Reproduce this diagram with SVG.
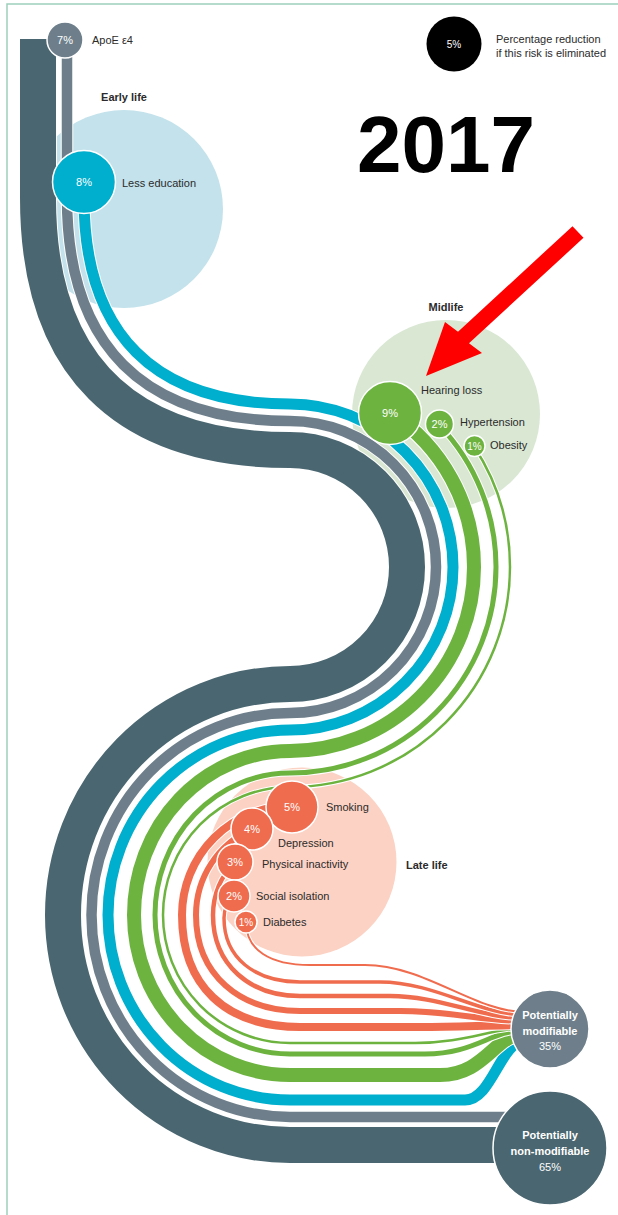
<svg xmlns="http://www.w3.org/2000/svg" width="618" height="1215" viewBox="0 0 618 1215">
<style>
text{font-family:"Liberation Sans",Arial,sans-serif;font-size:11px;fill:#2b2b2b}
.b{font-weight:bold}
.pct{fill:#fff;text-anchor:middle}
.mid{text-anchor:middle}
.stage{stroke:none}
.node{stroke:#fff;stroke-width:1.5}
.s{fill:none;stroke-linecap:butt;stroke-linejoin:round}
.cs{fill:none;stroke:#fff;stroke-linecap:butt}
.dk{stroke:#4a6670}.gy{stroke:#6e7f8b}.cy{stroke:#00aecd}.gr{stroke:#6db33f}.rd{stroke:#f06c4e}
</style>
<rect width="618" height="1215" fill="#fff"/>
<path d="M7 1215 V4 H618" fill="none" stroke="#9ccfbb" stroke-width="1.5"/>

<g id="stage-early"><circle class="stage" cx="124" cy="209" r="99" fill="#c3e2eb"/><text class="b mid" x="124" y="101">Early life</text></g>
<g id="stage-mid"><circle class="stage" cx="446" cy="414" r="94" fill="#d9e7d3"/><text class="b mid" x="446" y="311">Midlife</text></g>
<g id="stage-late"><circle class="stage" cx="302" cy="862" r="94.5" fill="#fbd2c3"/><text class="b" x="406" y="869">Late life</text></g>

<g id="title"><text x="357" y="172" style="font-size:80px;font-weight:bold;fill:#000">2017</text></g>
<g id="legend"><circle cx="454" cy="44" r="27.5" fill="#000"/><text class="pct" x="454" y="48" style="font-size:10px">5%</text>
<text x="496" y="43">Percentage reduction</text><text x="496" y="57">if this risk is eliminated</text></g>

<g id="connectors">
<path class="cs" stroke-width="38" d="M38 39 V198 C38 364.3 123.7 450 290 450 A117 117 0 0 1 407 567 A117 117 0 0 1 290 684 A227 231 0 0 0 63 915 A227 230 0 0 0 290 1145 H525"/>
<path class="s dk" stroke-width="36" d="M38 39 V198 C38 364.3 123.7 450 290 450 A117 117 0 0 1 407 567 A117 117 0 0 1 290 684 A227 231 0 0 0 63 915 A227 230 0 0 0 290 1145 H525"/>
<path class="cs" stroke-width="12.5" d="M67 52 V198 C67 345.2 142.8 421 290 421 A146 146 0 0 1 436 567 A146 146 0 0 1 290 713 A198.5 202 0 0 0 91.5 915 A198.5 202 0 0 0 290 1117 H525"/>
<path class="s gy" stroke-width="10.5" d="M67 52 V198 C67 345.2 142.8 421 290 421 A146 146 0 0 1 436 567 A146 146 0 0 1 290 713 A198.5 202 0 0 0 91.5 915 A198.5 202 0 0 0 290 1117 H525"/>
<path class="cs" stroke-width="13" d="M84 190 V198 C84 334 154 404 290 404 A163 163 0 0 1 453 567 A163 163 0 0 1 290 730 A182 185 0 0 0 108 915 A182 185 0 0 0 290 1100 H465 C492 1100 500 1042 525 1040"/>
<path class="s cy" stroke-width="11" d="M84 190 V198 C84 334 154 404 290 404 A163 163 0 0 1 453 567 A163 163 0 0 1 290 730 A182 185 0 0 0 108 915 A182 185 0 0 0 290 1100 H465 C492 1100 500 1042 525 1040"/>
<path class="cs" stroke-width="16" d="M390.2 412.7 A184 184 0 0 1 474 567 A184 184 0 0 1 290 751 A156 164 0 0 0 134 915 A156 160 0 0 0 290 1075 H440 C485 1075 495 1034 525 1033"/>
<path class="s gr" stroke-width="14" d="M390.2 412.7 A184 184 0 0 1 474 567 A184 184 0 0 1 290 751 A156 164 0 0 0 134 915 A156 160 0 0 0 290 1075 H440 C485 1075 495 1034 525 1033"/>
<path class="cs" stroke-width="7" d="M438.9 424.7 A206 206 0 0 1 496 567 A206 206 0 0 1 290 773 A135 142 0 0 0 155 915 A135 139 0 0 0 290 1054 H425 C475 1054 490 1031 525 1030"/>
<path class="s gr" stroke-width="5" d="M438.9 424.7 A206 206 0 0 1 496 567 A206 206 0 0 1 290 773 A135 142 0 0 0 155 915 A135 139 0 0 0 290 1054 H425 C475 1054 490 1031 525 1030"/>
<path class="cs" stroke-width="4.5" d="M473.9 446.2 A220 220 0 0 1 510 567 A220 220 0 0 1 290 787 A127 128 0 0 0 163 915 A127 128 0 0 0 290 1043 H415 C465 1043 490 1029 525 1028"/>
<path class="s gr" stroke-width="2.5" d="M473.9 446.2 A220 220 0 0 1 510 567 A220 220 0 0 1 290 787 A127 128 0 0 0 163 915 A127 128 0 0 0 290 1043 H415 C465 1043 490 1029 525 1028"/>
<path class="cs" stroke-width="10" d="M292 806 A109 109 0 0 0 182 915 C182 985 225 1027 300 1027 H420 C460 1027 490 1025 525 1025"/>
<path class="s rd" stroke-width="8" d="M292 806 A109 109 0 0 0 182 915 C182 985 225 1027 300 1027 H420 C460 1027 490 1025 525 1025"/>
<path class="cs" stroke-width="8" d="M252 829 A94 94 0 0 0 196 915 C196 975 240 1011 300 1011 H400 C450 1011 485 1021 525 1021"/>
<path class="s rd" stroke-width="6" d="M252 829 A94 94 0 0 0 196 915 C196 975 240 1011 300 1011 H400 C450 1011 485 1021 525 1021"/>
<path class="cs" stroke-width="6.5" d="M235 862 A76 76 0 0 0 213 915 C213 965 250 996 300 996 H390 C440 996 480 1018 525 1018"/>
<path class="s rd" stroke-width="4.5" d="M235 862 A76 76 0 0 0 213 915 C213 965 250 996 300 996 H390 C440 996 480 1018 525 1018"/>
<path class="cs" stroke-width="5.5" d="M234 896 C227 902 224 908 224 918 C224 958 255 982 300 982 H380 C435 982 480 1015 525 1015"/>
<path class="s rd" stroke-width="3.5" d="M234 896 C227 902 224 908 224 918 C224 958 255 982 300 982 H380 C435 982 480 1015 525 1015"/>
<path class="cs" stroke-width="4" d="M246 922 C246 950 270 965 310 965 H365 C425 965 475 1012 525 1012"/>
<path class="s rd" stroke-width="2" d="M246 922 C246 950 270 965 310 965 H365 C425 965 475 1012 525 1012"/>
</g>

<g id="node-apoe"><circle class="node" cx="65" cy="40" r="18" fill="#6e7f8b"/><text class="pct" x="65" y="44">7%</text><text x="92" y="44">ApoE ε4</text></g>
<g id="node-education"><circle class="node" cx="84" cy="182" r="31.5" fill="#00aecd"/><text class="pct" x="84" y="186">8%</text><text x="122" y="187">Less education</text></g>
<g id="node-hearing"><circle class="node" cx="390" cy="413" r="31.5" fill="#6db33f"/><text class="pct" x="390" y="417">9%</text><text x="421" y="394">Hearing loss</text></g>
<g id="node-hypertension"><circle class="node" cx="439.5" cy="424" r="14" fill="#6db33f"/><text class="pct" x="439.5" y="428">2%</text><text x="460" y="426">Hypertension</text></g>
<g id="node-obesity"><circle class="node" cx="474.5" cy="446" r="10.5" fill="#6db33f"/><text class="pct" x="474.5" y="449.5" style="font-size:10px">1%</text><text x="490" y="449">Obesity</text></g>
<g id="node-smoking"><circle class="node" cx="292" cy="807" r="26" fill="#f06c4e"/><text class="pct" x="292" y="811">5%</text><text x="326" y="811">Smoking</text></g>
<g id="node-depression"><circle class="node" cx="252" cy="829" r="21" fill="#f06c4e"/><text class="pct" x="252" y="833">4%</text><text x="278" y="847">Depression</text></g>
<g id="node-inactivity"><circle class="node" cx="235" cy="862" r="18" fill="#f06c4e"/><text class="pct" x="235" y="866">3%</text><text x="262" y="868">Physical inactivity</text></g>
<g id="node-isolation"><circle class="node" cx="234" cy="896" r="16" fill="#f06c4e"/><text class="pct" x="234" y="900">2%</text><text x="256" y="900">Social isolation</text></g>
<g id="node-diabetes"><circle class="node" cx="246" cy="922" r="11" fill="#f06c4e"/><text class="pct" x="246" y="925.5" style="font-size:10px">1%</text><text x="263" y="926">Diabetes</text></g>
<g id="node-modifiable"><circle class="node" cx="550" cy="1029" r="39" fill="#6e7f8b"/><text class="pct b" x="550" y="1019">Potentially</text><text class="pct b" x="550" y="1035">modifiable</text><text class="pct" x="550" y="1050">35%</text></g>
<g id="node-nonmodifiable"><circle class="node" cx="550" cy="1148" r="57" fill="#4a6670"/><text class="pct b" x="550" y="1139">Potentially</text><text class="pct b" x="550" y="1155">non-modifiable</text><text class="pct" x="550" y="1171">65%</text></g>

<g id="arrow"><polygon points="572.5,226.2 583.5,237.8 469,343.3 482,353 426,376 445,322 458,331.7" fill="#ff0000"/></g>
</svg>
